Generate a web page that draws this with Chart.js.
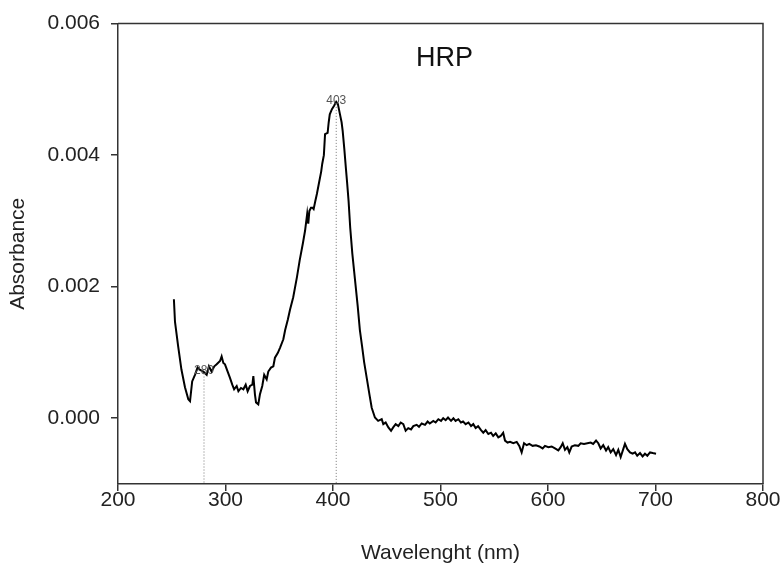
<!DOCTYPE html>
<html>
<head>
<meta charset="utf-8">
<script src="https://cdn.jsdelivr.net/npm/chart.js@4/dist/chart.umd.min.js"></script>
<style>
  html, body { margin: 0; padding: 0; background: #fff; }
  #wrap { width: 782px; height: 566px; }
</style>
</head>
<body>
<div id="wrap"><canvas id="c" width="782" height="566"></canvas></div>
<script>
// ---- data ----
const wavelength = [
  252, 253, 256, 259, 262.3, 265.4, 267, 269, 271.6, 274,
  276, 279.4, 282.5, 284.6, 287, 289.6, 291.8, 294.9, 296.4, 298,
  299.5, 302, 304, 306.3, 308, 310.4, 312, 314.4, 316.6, 318.8,
  320.6, 322.8, 325, 325.9, 327.4, 328.4, 330.5, 332, 334.2, 336,
  338.3, 339.8, 342.3, 344.5, 346, 348.6, 350.7, 353.8, 355.5, 358,
  360, 363, 366.5, 369, 372, 374, 376, 377, 378, 379.5,
  381, 382, 383.5, 385, 387, 389, 390, 391.5, 392.6, 395,
  396, 397, 399, 401, 403, 404.5, 406.5, 408, 409, 410.5,
  412, 413, 414.5, 416, 418, 420.5, 423, 425, 427, 429,
  431.6, 434, 436, 439, 442, 445.3, 446.8, 449, 451.5, 454,
  456, 458.3, 460.8, 463, 465.4, 467.6, 470, 472.6, 474.7, 477.8,
  480, 482.5, 485.6, 488, 490, 493.3, 495.5, 498, 500.5, 502.5,
  504.8, 507, 509.8, 512, 514, 516.6, 519, 521, 523.4, 526,
  528.4, 530.5, 532.7, 535, 537.7, 539.8, 542, 544.5, 547, 549,
  551.4, 553.8, 556, 558.3, 560, 562.4, 564.7, 567.7, 570.9, 573.3,
  575.5, 577.7, 580.2, 582.6, 585.7, 588.8, 591.9, 595, 597.2, 600.3,
  603.4, 606.5, 609.6, 611.8, 613.7, 615.8, 618, 619.8, 622, 625,
  628.2, 630.4, 633.5, 636.6, 639.7, 642, 644.7, 646.8, 649, 651.4,
  654, 656, 658.3, 660.7, 663.3, 665.4, 667.6, 670, 671.6, 673.8,
  676.3, 678.7, 681, 683, 685.6, 688, 690.2, 692.4, 694.9, 697.4,
  700.5
];
const absorbance = [
  0.00181, 0.00147, 0.00109, 0.00074, 0.00047, 0.00029, 0.00026, 0.00056, 0.00066, 0.00077,
  0.00074, 0.00071, 0.00066, 0.00079, 0.00071, 0.00079, 0.00082, 0.00087, 0.00094, 0.00084,
  0.00082, 0.00071, 0.00062, 0.00051, 0.00044, 0.00049, 0.00041, 0.00046, 0.00044, 0.00051,
  0.00041, 0.00049, 0.00051, 0.00064, 0.00036, 0.00024, 0.00021, 0.00036, 0.00049, 0.00066,
  0.00059, 0.00071, 0.00077, 0.00079, 0.00092, 0.00099, 0.00107, 0.00120, 0.00134, 0.00150,
  0.00165, 0.00184, 0.00215, 0.00240, 0.00266, 0.00285, 0.00311, 0.00296, 0.00315, 0.00320,
  0.00320, 0.00318, 0.00330, 0.00341, 0.00358, 0.00375, 0.00387, 0.00400, 0.00432, 0.00434,
  0.00450, 0.00462, 0.00470, 0.00475, 0.00481, 0.00478, 0.00462, 0.00450, 0.00437, 0.00410,
  0.00380, 0.00361, 0.00330, 0.00290, 0.00250, 0.00210, 0.00170, 0.00134, 0.00110, 0.00085,
  0.00059, 0.00035, 0.00016, 0.00001, -0.00004, -0.000015, -0.00009, -0.000065, -0.00014, -0.00019,
  -0.00014, -0.00009, -0.00012, -0.000065, -0.00009, -0.00019, -0.00015, -0.00017, -0.00012, -0.00010,
  -0.00013, -0.00008, -0.00010, -0.00005, -0.00008, -0.00004, -0.000065, -0.000015, -0.00004, 0.00000,
  -0.00003, 0.00001, -0.00004, 0.00000, -0.00004, -0.000015, -0.000065, -0.00005, -0.00009, -0.000065,
  -0.00012, -0.00009, -0.00015, -0.00012, -0.00018, -0.00022, -0.00018, -0.00024, -0.00022, -0.00027,
  -0.00023, -0.00029, -0.00027, -0.00022, -0.00034, -0.00037, -0.00036, -0.00038, -0.00036, -0.00042,
  -0.00052, -0.00038, -0.00041, -0.00039, -0.00042, -0.00041, -0.00043, -0.00046, -0.00042, -0.00044,
  -0.00043, -0.00046, -0.00049, -0.00044, -0.00038, -0.00048, -0.00044, -0.00052, -0.00043, -0.00041,
  -0.00042, -0.00038, -0.00039, -0.00038, -0.00037, -0.00039, -0.00034, -0.00038, -0.00046, -0.00041,
  -0.00049, -0.00044, -0.00052, -0.00047, -0.00056, -0.00048, -0.00059, -0.00047, -0.00039, -0.00047,
  -0.00052, -0.00054, -0.00052, -0.00057, -0.00053, -0.00058, -0.00054, -0.00057, -0.00052, -0.00053,
  -0.00054
];
const peakWavelengths = [280, 403];
const peakAbsorbance = [0.00071, 0.00481];
const peakLabels = ['280', '403'];
const xTicks = [200, 300, 400, 500, 600, 700, 800];
const yTicks = [0.000, 0.002, 0.004, 0.006];
const chartTitle = 'HRP';
const xTitle = 'Wavelenght (nm)';
const yTitle = 'Absorbance';

const FONT = '"Liberation Sans", Arial, sans-serif';

const points = wavelength.map((w, i) => ({ x: w, y: absorbance[i] }));

const framePlugin = {
  id: 'frame',
  afterDraw(chart) {
    const { ctx, chartArea: a, scales } = chart;
    ctx.save();
    // top and right frame lines
    ctx.strokeStyle = '#333';
    ctx.lineWidth = 1.5;
    ctx.beginPath();
    ctx.moveTo(a.left, a.top);
    ctx.lineTo(a.right, a.top);
    ctx.lineTo(a.right, a.bottom);
    ctx.stroke();
    // peak markers
    ctx.setLineDash([1, 2]);
    ctx.lineWidth = 1;
    ctx.strokeStyle = '#777';
    peakWavelengths.forEach((w, i) => {
      const px = scales.x.getPixelForValue(w);
      const py = scales.y.getPixelForValue(peakAbsorbance[i]);
      ctx.beginPath();
      ctx.moveTo(px, py + 2);
      ctx.lineTo(px, a.bottom);
      ctx.stroke();
    });
    ctx.setLineDash([]);
    ctx.fillStyle = '#555';
    ctx.font = '12px ' + FONT;
    ctx.textAlign = 'center';
    ctx.textBaseline = 'bottom';
    peakWavelengths.forEach((w, i) => {
      const px = scales.x.getPixelForValue(w);
      const py = scales.y.getPixelForValue(peakAbsorbance[i]);
      ctx.fillText(peakLabels[i], px, py + 5);
    });
    // chart title inside plot
    ctx.fillStyle = '#111';
    ctx.font = '27px ' + FONT;
    ctx.textBaseline = 'middle';
    ctx.fillText(chartTitle, (a.left + a.right) / 2 + 4, a.top + 35);
    ctx.restore();
  }
};

new Chart(document.getElementById('c'), {
  type: 'line',
  data: {
    datasets: [{
      data: points,
      borderColor: '#000',
      borderWidth: 2,
      pointRadius: 0,
      tension: 0,
      fill: false
    }]
  },
  options: {
    responsive: false,
    animation: false,
    devicePixelRatio: 1,
    layout: { padding: { left: 0, top: 22, right: 19, bottom: 0 } },
    plugins: { legend: { display: false }, tooltip: { enabled: false } },
    scales: {
      x: {
        type: 'linear',
        min: 200, max: 800,
        afterBuildTicks: s => { s.ticks = xTicks.map(v => ({ value: v })); },
        afterFit: s => { s.height = 82; },
        grid: { drawOnChartArea: false, drawTicks: true, tickLength: 7, color: '#333', lineWidth: 1.5 },
        border: { display: true, color: '#333', width: 1.5 },
        ticks: { color: '#222', font: { family: FONT, size: 21 }, padding: -3, maxRotation: 0 },
        title: { display: true, text: xTitle, color: '#222', font: { family: FONT, size: 21 }, padding: { top: 0, bottom: 0 } }
      },
      y: {
        type: 'linear',
        min: -0.001, max: 0.006,
        afterBuildTicks: s => { s.ticks = yTicks.map(v => ({ value: v })); },
        afterFit: s => { s.width = 118; },
        grid: { drawOnChartArea: false, drawTicks: true, tickLength: 7, color: '#333', lineWidth: 1.5 },
        border: { display: true, color: '#333', width: 1.5 },
        ticks: { color: '#222', font: { family: FONT, size: 21 }, padding: 11, callback: v => v.toFixed(3) },
        title: { display: true, text: yTitle, color: '#222', font: { family: FONT, size: 21 }, padding: { top: 6, bottom: 0 } }
      }
    }
  },
  plugins: [framePlugin]
});
</script>
</body>
</html>
